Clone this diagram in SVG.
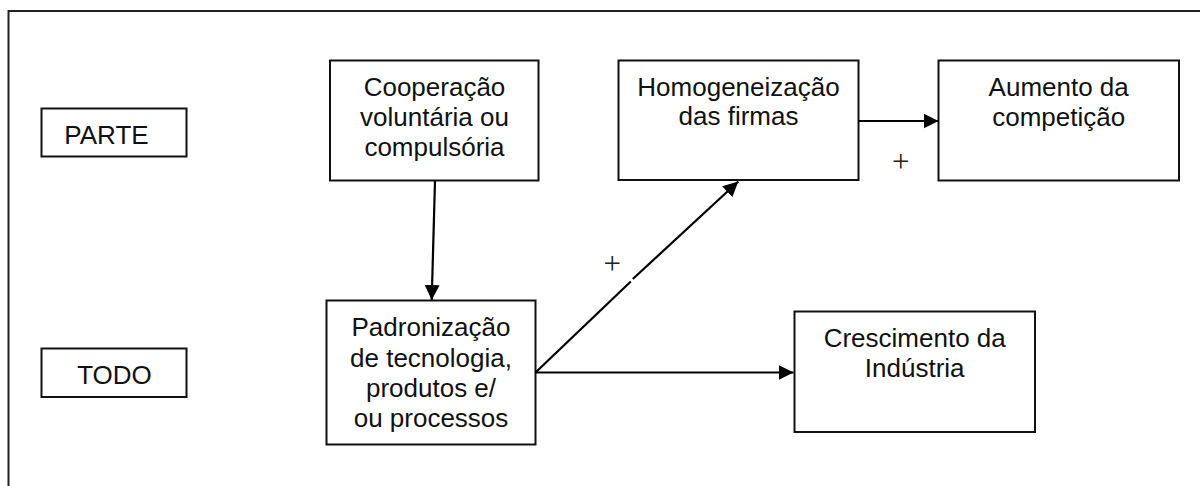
<svg xmlns="http://www.w3.org/2000/svg" width="1200" height="486" viewBox="0 0 1200 486">
  <style>
    .box { fill: #fff; stroke: #111; stroke-width: 2; }
    .t { font-family: "Liberation Sans", Arial, sans-serif; font-size: 26px; fill: #111; text-anchor: middle; }
    .plus { font-family: "Liberation Serif", "Times New Roman", serif; font-size: 31px; fill: #222; text-anchor: middle; }
    .edge { fill: none; stroke: #000; stroke-width: 2.2; }
  </style>
  <defs>
    <marker id="arr" markerUnits="userSpaceOnUse" markerWidth="16" markerHeight="16" refX="15" refY="7.5" orient="auto">
      <path d="M0,0 L15,7.5 L0,15 Z" fill="#000"/>
    </marker>
  </defs>
  <rect width="1200" height="486" fill="#fff"/>
  <g id="frame">
    <path d="M8.5,490 L8.5,11 L1205,11" fill="none" stroke="#222" stroke-width="2"/>
  </g>
  <g id="parte">
    <rect class="box" x="41.5" y="108.5" width="145" height="48"/>
    <text class="t" x="106.5" y="144">PARTE</text>
  </g>
  <g id="todo">
    <rect class="box" x="41.5" y="348.5" width="145" height="48.5"/>
    <text class="t" x="114.5" y="383.5">TODO</text>
  </g>
  <g id="cooperacao">
    <rect class="box" x="330" y="60.5" width="208.5" height="120"/>
    <text class="t" x="434.5" y="96">Cooperação</text>
    <text class="t" x="434.5" y="126">voluntária ou</text>
    <text class="t" x="434.5" y="156">compulsória</text>
  </g>
  <g id="homogeneizacao">
    <rect class="box" x="618.5" y="60.5" width="240" height="119.5"/>
    <text class="t" x="738.5" y="95.5">Homogeneização</text>
    <text class="t" x="738.5" y="125">das firmas</text>
  </g>
  <g id="aumento">
    <rect class="box" x="938.5" y="60.5" width="240.5" height="120"/>
    <text class="t" x="1058.7" y="95.5">Aumento da</text>
    <text class="t" x="1058.7" y="125.5">competição</text>
  </g>
  <g id="padronizacao">
    <rect class="box" x="326.5" y="300.5" width="209" height="144"/>
    <text class="t" x="431" y="336">Padronização</text>
    <text class="t" x="431" y="366.5">de tecnologia,</text>
    <text class="t" x="431" y="396.5">produtos e/</text>
    <text class="t" x="431" y="426.5">ou processos</text>
  </g>
  <g id="crescimento">
    <rect class="box" x="794.5" y="311.5" width="240.5" height="120.5"/>
    <text class="t" x="914.7" y="346.5">Crescimento da</text>
    <text class="t" x="914.7" y="377">Indústria</text>
  </g>
  <g id="connectors">
    <path class="edge" d="M435,181 L431.7,300" marker-end="url(#arr)"/>
    <path class="edge" d="M858.5,121 L938.5,121" marker-end="url(#arr)"/>
    <path class="edge" d="M535.5,372.5 L793.5,372.5" marker-end="url(#arr)"/>
    <path class="edge" d="M535.5,372.5 L630.8,281.5"/>
    <path class="edge" d="M632.8,279 L738.3,181.5" marker-end="url(#arr)"/>
    <text class="plus" x="612.3" y="274">+</text>
    <text class="plus" x="900.7" y="172">+</text>
  </g>
</svg>
